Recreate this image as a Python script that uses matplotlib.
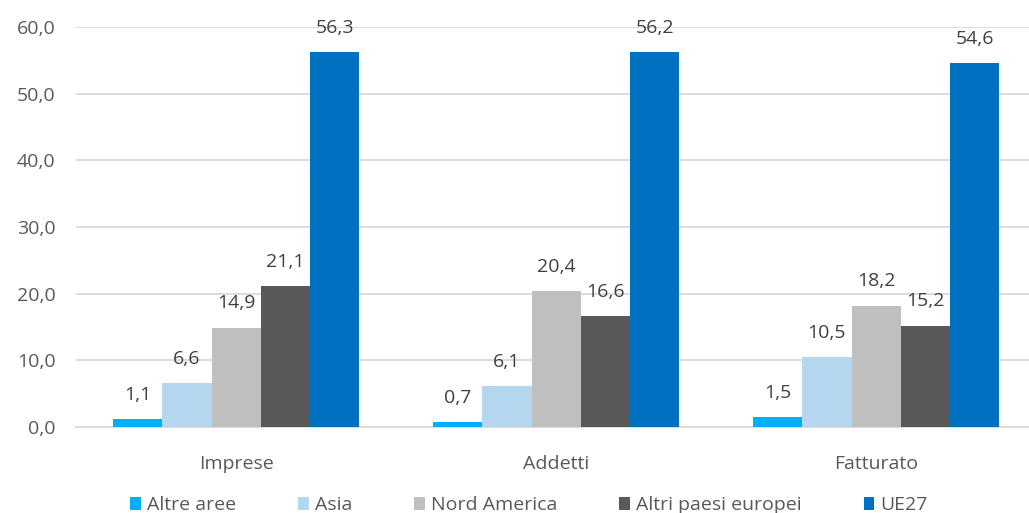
import numpy as np
import matplotlib.pyplot as plt

categories = ["Imprese", "Addetti", "Fatturato"]
series = ["Altre aree", "Asia", "Nord America", "Altri paesi europei", "UE27"]
altre_aree = [1.1, 0.7, 1.5]
asia = [6.6, 6.1, 10.5]
nord_america = [14.9, 20.4, 18.2]
altri_europei = [21.1, 16.6, 15.2]
ue27 = [56.3, 56.2, 54.6]
colors = ["#00B0F0", "#B4D6EE", "#BFBFBF", "#595959", "#0070C0"]

plt.rcParams['font.family'] = ['Open Sans', 'DejaVu Sans']

fig = plt.figure(figsize=(10.29, 5.13), dpi=100)
ax = fig.add_axes([0.074, 0.168, 0.933, 0.779])

x = np.arange(len(categories))
width = 0.154
values = [altre_aree, asia, nord_america, altri_europei, ue27]
for i, (name, vals, c) in enumerate(zip(series, values, colors)):
    pos = x + (i - 2) * width
    bars = ax.bar(pos, vals, width, color=c, label=name, zorder=3)
    for b, v in zip(bars, vals):
        ax.text(b.get_x() + b.get_width() / 2, v + 2.3, f"{v:.1f}".replace(".", ","),
                ha="center", va="bottom", fontsize=14, color="#404040")

ax.set_ylim(0, 60)
ax.set_xlim(-0.5, 2.5)
ax.set_yticks(np.arange(0, 61, 10))
ax.set_yticklabels([f"{t:.1f}".replace(".", ",") for t in np.arange(0, 61, 10)])
ax.set_xticks(x)
ax.set_xticklabels(categories)
ax.tick_params(axis="y", length=0, labelsize=14, labelcolor="#595959", pad=15)
ax.tick_params(axis="x", length=0, labelsize=14, labelcolor="#595959", pad=20)
ax.grid(axis="y", color="#D9D9D9", linewidth=1.3, zorder=0)
for s in ["top", "right", "left"]:
    ax.spines[s].set_visible(False)
ax.spines["bottom"].set_color("#D9D9D9")
ax.spines["bottom"].set_linewidth(1.3)

fig.legend(loc="center", bbox_to_anchor=(0.514, 0.015), ncol=5, frameon=False,
           fontsize=14, labelcolor="#595959", handlelength=0.55, handleheight=0.7,
           handletextpad=0.3, columnspacing=3.2)

fig.savefig("out.png", dpi=100)
